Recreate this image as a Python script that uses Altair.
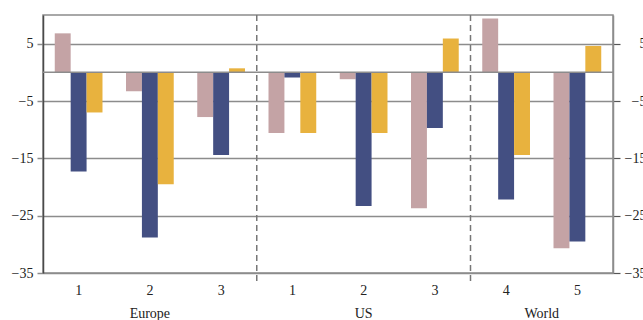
import altair as alt
import pandas as pd

# Category keys (unique), their tick labels and the region each belongs to
keys = ["E1", "E2", "E3", "U1", "U2", "U3", "W4", "W5"]
tick_labels = ["1", "2", "3", "1", "2", "3", "4", "5"]
regions = ["Europe", "Europe", "Europe", "US", "US", "US", "World", "World"]

# Three series of values per category
series_names = ["A", "B", "C"]
values_a = [6.8, -3.3, -7.8, -10.6, -1.2, -23.7, 9.4, -30.7]
values_b = [-17.3, -28.8, -14.4, -0.9, -23.3, -9.7, -22.2, -29.5]
values_c = [-7.0, -19.5, 0.7, -10.6, -10.6, 5.9, -14.4, 4.6]
colors = ["#c4a3a5", "#434f82", "#e8b23e"]

# Region label centres and separator positions on a 0..8 category index scale
region_names = ["Europe", "US", "World"]
region_centres = [1.5, 4.5, 7.0]
separators = [3, 6]

rows = []
for i, k in enumerate(keys):
    for s, vals in zip(series_names, [values_a, values_b, values_c]):
        rows.append({"key": k, "series": s, "value": vals[i]})
df = pd.DataFrame(rows)

label_map = "{" + ",".join(f"'{k}':'{t}'" for k, t in zip(keys, tick_labels)) + "}"

W, H = 570, 258
FONT = "Liberation Serif"
FS = 14
GRID = "#8c8c8c"

yscale = alt.Scale(domain=[-35, 10], nice=False, zero=False)
ticks = [5, -5, -15, -25, -35]

bars = alt.Chart(df).mark_bar(stroke=None).encode(
    x=alt.X("key:N", sort=keys, title=None,
            scale=alt.Scale(paddingInner=0.33, paddingOuter=0.165),
            axis=alt.Axis(labelExpr=f"{label_map}[datum.value]", ticks=False,
                          domain=False, labelAngle=0, labelFont=FONT,
                          labelFontSize=FS, labelColor="#222", labelPadding=10)),
    xOffset=alt.XOffset("series:N", sort=series_names),
    y=alt.Y("value:Q", scale=yscale, title=None,
            axis=alt.Axis(orient="left", values=ticks, grid=True, gridColor=GRID,
                          gridWidth=1.5, tickColor=GRID, tickSize=6, tickWidth=1.5,
                          domainColor="#4a4a4a", domainWidth=1.5, labelFont=FONT,
                          labelFontSize=FS, labelColor="#222", labelPadding=4)),
    color=alt.Color("series:N", scale=alt.Scale(domain=series_names, range=colors),
                    legend=None),
)

zero_line = alt.Chart(pd.DataFrame({"v": [0]})).mark_rule(
    color=GRID, strokeWidth=1.5
).encode(
    y=alt.Y("v:Q", scale=yscale,
            axis=alt.Axis(orient="right", values=ticks, grid=False, title=None,
                          tickColor="#555", tickSize=7, tickWidth=1.2,
                          domainColor=GRID, domainWidth=1.5, labelFont=FONT,
                          labelFontSize=FS, labelColor="#222", labelAlign="right",
                          labelPadding=26))
)

idx_scale = alt.Scale(domain=[0, 8], nice=False, zero=False)

sep = alt.Chart(pd.DataFrame({"pos": separators})).mark_rule(
    color="#777", strokeDash=[6, 4], strokeWidth=1.5
).encode(
    x=alt.X("pos:Q", scale=idx_scale, axis=None),
    y=alt.value(0),
    y2=alt.value(H + 10),
)

region_text = alt.Chart(
    pd.DataFrame({"name": region_names, "centre": region_centres})
).mark_text(font=FONT, fontSize=FS, color="#222", baseline="middle").encode(
    x=alt.X("centre:Q", scale=idx_scale, axis=None),
    y=alt.value(H + 41),
    text="name:N",
)

chart = alt.layer(bars, zero_line, sep, region_text).resolve_scale(
    x="independent"
).resolve_axis(y="independent").properties(
    width=W, height=H,
    autosize=alt.AutoSizeParams(type="none"),
    padding={"left": 43, "top": 15, "right": 30, "bottom": 47},
).configure_view(stroke=GRID, strokeWidth=1.5)

chart.save("out.html", embed_options={"renderer": "svg", "actions": False})
